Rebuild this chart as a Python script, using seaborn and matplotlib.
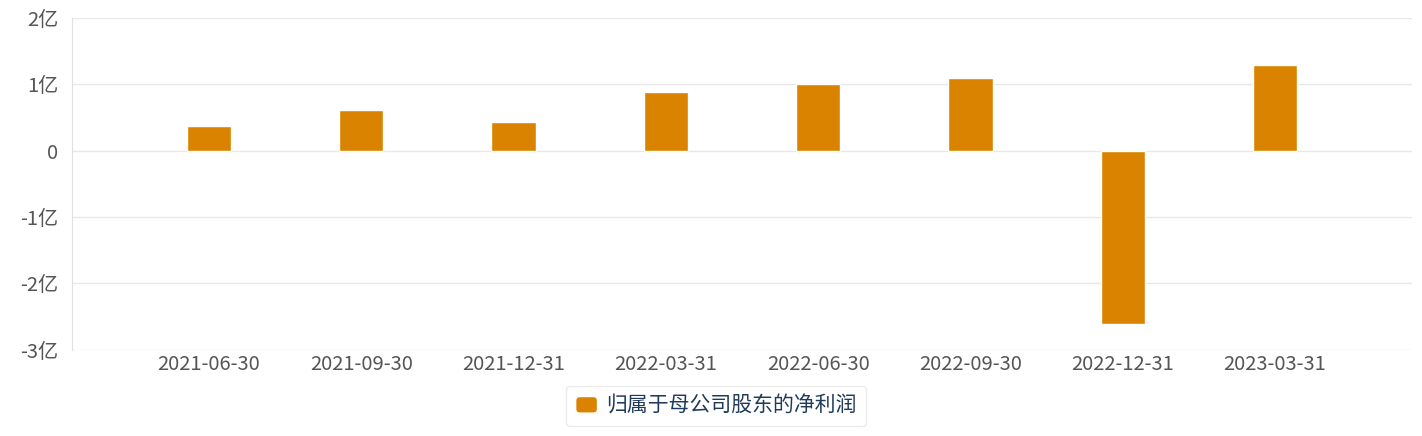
import matplotlib
matplotlib.use('Agg')
import matplotlib.pyplot as plt
import seaborn as sns
import pandas as pd
from matplotlib.ticker import FuncFormatter
from matplotlib.patches import FancyBboxPatch
from matplotlib.legend_handler import HandlerPatch

dates = ['2021-06-30', '2021-09-30', '2021-12-31', '2022-03-31',
         '2022-06-30', '2022-09-30', '2022-12-31', '2023-03-31']
net_profit = [0.38e8, 0.61e8, 0.43e8, 0.89e8, 1.00e8, 1.10e8, -2.61e8, 1.30e8]
series_name = '归属于母公司股东的净利润'

df = pd.DataFrame({'date': dates, 'value': net_profit, 'series': series_name})

sns.set_style('white')
plt.rcParams['font.family'] = ['Noto Sans CJK SC', 'DejaVu Sans']
plt.rcParams['axes.unicode_minus'] = False

bar_color = '#d98300'

fig = plt.figure(figsize=(14.22, 4.36), dpi=100)
ax = fig.add_axes([0.0506, 0.198, 0.9424, 0.7605])

sns.barplot(data=df, x='date', y='value', hue='series', palette=[bar_color],
            width=0.29, ax=ax, saturation=1)

ax.set_ylim(-3e8, 2e8)
ax.set_xlim(-0.9, 7.9)
ax.set_yticks([-3e8, -2e8, -1e8, 0, 1e8, 2e8])


def yi(v, pos):
    n = int(round(v / 1e8))
    return '0' if n == 0 else f'{n}亿'


ax.yaxis.set_major_formatter(FuncFormatter(yi))
ax.grid(axis='y', color='#e8e8e8', linewidth=1)
ax.set_axisbelow(True)
for s in ['top', 'right', 'bottom']:
    ax.spines[s].set_visible(False)
ax.spines['left'].set_color('#e0e0e0')
ax.tick_params(axis='both', length=0, labelsize=14.5, colors='#555555')
ax.tick_params(axis='x', pad=3)
ax.tick_params(axis='y', pad=10)
ax.set_xlabel('')
ax.set_ylabel('')


# rounded legend swatch
def rounded_box(legend, orig_handle, xdescent, ydescent, width, height, fontsize):
    return FancyBboxPatch((-xdescent, -ydescent), width, height,
                          boxstyle='round,pad=0,rounding_size=3')


leg = ax.legend(loc='center', bbox_to_anchor=(0.4806, -0.170), frameon=True,
                fontsize=15, handlelength=1.05, handleheight=0.85,
                handletextpad=0.4, borderpad=0.45, borderaxespad=0,
                fancybox=True,
                handler_map={matplotlib.patches.Rectangle: HandlerPatch(patch_func=rounded_box)})
leg.get_frame().set_edgecolor('#e6e6e6')
leg.get_frame().set_linewidth(1)
for t in leg.get_texts():
    t.set_color('#1f3a5a')

fig.savefig('out.png', dpi=100)
